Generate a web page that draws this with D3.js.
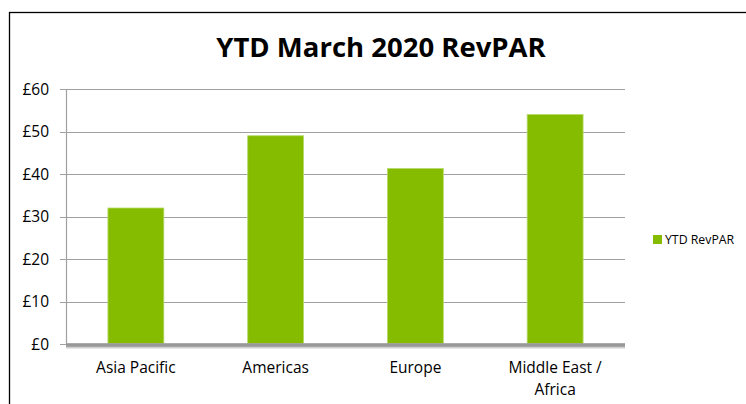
<!DOCTYPE html>
<html>
<head>
<meta charset="utf-8">
<script src="https://cdn.jsdelivr.net/npm/d3@7"></script>
<style>
  body { margin: 0; background: #fff; }
  svg { display: block; font-family: "Open Sans", "Liberation Sans", sans-serif; }
</style>
</head>
<body>
<div id="chart"></div>
<script>
// Chart data
const regions = ["Asia Pacific", "Americas", "Europe", "Middle East / Africa"];
const revpar = [32, 49, 41.3, 54];
const yTicks = [0, 10, 20, 30, 40, 50, 60];
const seriesName = "YTD RevPAR";
const chartTitle = "YTD March 2020 RevPAR";

const width = 746, height = 404;
const margin = { left: 66, right: 121, top: 89, bottom: 60 };

const svg = d3.select("#chart").append("svg")
    .attr("width", width)
    .attr("height", height);

// outer frame (runs off the right and bottom edge)
svg.append("rect")
    .attr("x", 9.5).attr("y", 12.5)
    .attr("width", 760).attr("height", 420)
    .style("fill", "none")
    .style("stroke", "#000")
    .style("stroke-width", 1.3);

svg.append("text")
    .attr("x", 381).attr("y", 57)
    .attr("text-anchor", "middle")
    .style("font-size", "27.5px")
    .style("font-weight", "bold")
    .text(chartTitle);

const x = d3.scaleBand()
    .domain(regions)
    .range([margin.left, width - margin.right])
    .paddingInner(0.6)
    .paddingOuter(0.3);

const y = d3.scaleLinear()
    .domain([0, 60])
    .range([height - margin.bottom, margin.top]);

// gridlines
svg.append("g")
    .selectAll("line")
    .data(yTicks)
    .join("line")
    .attr("x1", margin.left - 6)
    .attr("x2", width - margin.right)
    .attr("y1", d => Math.round(y(d)) + 0.5)
    .attr("y2", d => Math.round(y(d)) + 0.5)
    .style("stroke", "#a0a0a0")
    .style("stroke-width", 1.2);

// left axis line
svg.append("line")
    .attr("x1", margin.left + 0.5).attr("x2", margin.left + 0.5)
    .attr("y1", y(60)).attr("y2", y(0))
    .style("stroke", "#a0a0a0")
    .style("stroke-width", 1.2);

// y tick labels
svg.append("g")
    .selectAll("text")
    .data(yTicks)
    .join("text")
    .attr("x", 49)
    .attr("y", d => y(d))
    .attr("dy", "0.36em")
    .attr("text-anchor", "end")
    .style("font-size", "15.5px")
    .text(d => "£" + d);

// bars
svg.append("g")
    .selectAll("rect")
    .data(regions)
    .join("rect")
    .attr("x", d => x(d))
    .attr("y", (d, i) => y(revpar[i]))
    .attr("width", x.bandwidth())
    .attr("height", (d, i) => y(0) - y(revpar[i]))
    .style("fill", "#86bc00")
    .style("stroke", "#b5d96a")
    .style("stroke-width", 0.8);

// thick category axis
svg.append("line")
    .attr("x1", margin.left).attr("x2", width - margin.right)
    .attr("y1", y(0) + 2).attr("y2", y(0) + 2)
    .style("stroke", "#cfcfcf")
    .style("stroke-width", 5);
svg.append("line")
    .attr("x1", margin.left).attr("x2", width - margin.right)
    .attr("y1", y(0) + 1).attr("y2", y(0) + 1)
    .style("stroke", "#999")
    .style("stroke-width", 3.5);

// category labels, wrapped on " / "
const labels = svg.append("g")
    .selectAll("text")
    .data(regions)
    .join("text")
    .attr("text-anchor", "middle")
    .style("font-size", "15.5px")
    .attr("x", d => x(d) + x.bandwidth() / 2)
    .attr("y", 373);

labels.each(function (d) {
    const parts = d.includes(" / ") ? [d.split(" / ")[0] + " /", d.split(" / ")[1]] : [d];
    const t = d3.select(this);
    parts.forEach((p, i) => {
        t.append("tspan")
            .attr("x", x(d) + x.bandwidth() / 2)
            .attr("dy", i === 0 ? 0 : 22)
            .text(p);
    });
});

// legend
const legend = svg.append("g").attr("transform", "translate(653,235)");
legend.append("rect")
    .attr("width", 9).attr("height", 9)
    .style("fill", "#86bc00");
legend.append("text")
    .attr("x", 12).attr("y", 4.5)
    .attr("dy", "0.36em")
    .style("font-size", "12.3px")
    .text(seriesName);
</script>
</body>
</html>
